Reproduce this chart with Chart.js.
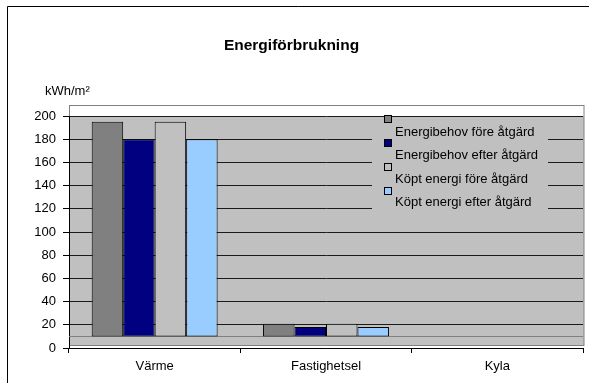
<!DOCTYPE html>
<html>
<head>
<meta charset="utf-8">
<script src="https://cdn.jsdelivr.net/npm/chart.js@4/dist/chart.umd.min.js"></script>
<style>
  html, body { margin: 0; padding: 0; background: #ffffff; overflow: hidden; }
  #wrap { position: relative; width: 589px; height: 383px; }
</style>
</head>
<body>
<div id="wrap"><canvas id="c" width="589" height="383"></canvas></div>
<script>
const chartTitle = 'Energiförbrukning';
const unitLabel = 'kWh/m²';
const categories = ['Värme', 'Fastighetsel', 'Kyla'];
const seriesNames = ['Energibehov före åtgärd', 'Energibehov efter åtgärd', 'Köpt energi före åtgärd', 'Köpt energi efter åtgärd'];
const energibehovFore = [195, 21, null];
const energibehovEfter = [180, 18, null];
const kooptFore = [195, 21, null];
const kooptEfter = [180, 18, null];
const seriesColors = ['#808080', '#000080', '#c0c0c0', '#99ccff'];
const yTicks = [0, 20, 40, 60, 80, 100, 120, 140, 160, 180, 200];
const barBase = 10;

const FONT = '"Liberation Sans", Arial, sans-serif';

const plotDecor = {
  id: 'plotDecor',
  beforeDraw(chart) {
    const ctx = chart.ctx;
    const a = chart.chartArea;
    const y = chart.scales.y;
    ctx.save();
    // outer frame (only top and left edges are inside the picture)
    ctx.strokeStyle = '#000';
    ctx.lineWidth = 1;
    ctx.beginPath();
    ctx.moveTo(7.5, 400);
    ctx.lineTo(7.5, 6.5);
    ctx.lineTo(600, 6.5);
    ctx.stroke();
    // plot outline with white strip above top
    const top = Math.round(y.getPixelForValue(200));
    const bottomFill = Math.round(y.getPixelForValue(0)) - 2;
    ctx.fillStyle = '#ffffff';
    ctx.fillRect(a.left, top - 11, a.right - a.left + 1, 11);
    ctx.fillStyle = '#c0c0c0';
    ctx.fillRect(a.left, top, a.right - a.left + 1, bottomFill - top);
    ctx.strokeStyle = '#808080';
    ctx.strokeRect(a.left + 0.5, top - 10.5, a.right - a.left + 0.5, bottomFill - top + 10);
    // unit label
    ctx.fillStyle = '#000';
    ctx.font = '13px ' + FONT;
    ctx.textBaseline = 'middle';
    ctx.textAlign = 'left';
    ctx.fillText(unitLabel, 45, 91);
    ctx.restore();
  },
  beforeDatasetsDraw(chart) {
    const ctx = chart.ctx;
    const a = chart.chartArea;
    const yy = Math.round(chart.scales.y.getPixelForValue(barBase)) + 0.5;
    ctx.save();
    ctx.strokeStyle = '#808080';
    ctx.lineWidth = 1;
    ctx.beginPath();
    ctx.moveTo(a.left, yy);
    ctx.lineTo(a.right, yy);
    ctx.stroke();
    ctx.restore();
  },
  afterDraw(chart) {
    const ctx = chart.ctx;
    ctx.save();
    // legend background (interrupts gridlines)
    ctx.fillStyle = '#c0c0c0';
    ctx.fillRect(372, 118, 176, 104);
    ctx.font = '13px ' + FONT;
    ctx.textBaseline = 'middle';
    ctx.textAlign = 'left';
    chart.data.datasets.forEach((ds, i) => {
      const my = 115 + i * 24;
      ctx.fillStyle = ds.backgroundColor;
      ctx.fillRect(384, my, 8, 8);
      ctx.strokeStyle = '#000';
      ctx.lineWidth = 1;
      ctx.strokeRect(384.5, my + 0.5, 7, 7);
      ctx.fillStyle = '#000';
      ctx.fillText(ds.label, 395, 132 + i * 23.5);
    });
    ctx.restore();
  }
};

const dataArrays = [energibehovFore, energibehovEfter, kooptFore, kooptEfter];

new Chart(document.getElementById('c'), {
  type: 'bar',
  data: {
    labels: categories,
    datasets: dataArrays.map((arr, i) => ({
      label: seriesNames[i],
      data: arr,
      backgroundColor: seriesColors[i],
      borderColor: '#000',
      borderWidth: 1,
      borderSkipped: false,
      base: barBase,
      categoryPercentage: 0.735,
      barPercentage: 1.0
    }))
  },
  options: {
    responsive: false,
    animation: false,
    devicePixelRatio: 1,
    layout: { padding: { left: 0, right: 6, top: 0, bottom: 0 } },
    plugins: {
      legend: { display: false },
      tooltip: { enabled: false },
      title: {
        display: true,
        text: chartTitle,
        color: '#000',
        font: { family: FONT, size: 15.5, weight: 'bold', lineHeight: 1.2 },
        padding: { top: 36.4, bottom: 61 }
      }
    },
    scales: {
      x: {
        offset: true,
        grid: { display: true, offset: true, drawOnChartArea: false, drawTicks: true, tickLength: 5, color: '#000' },
        border: { display: true, color: '#000', width: 1 },
        ticks: { color: '#000', font: { family: FONT, size: 13 }, padding: 6, maxRotation: 0 },
        afterFit(scale) { scale.height = 35; }
      },
      y: {
        min: 0,
        max: 200,
        afterBuildTicks(scale) { scale.ticks = yTicks.map(v => ({ value: v })); },
        grid: { display: true, drawTicks: true, tickLength: 6, color: '#1a1a1a', tickColor: '#000' },
        border: { display: true, color: '#000', width: 1 },
        ticks: { color: '#000', font: { family: FONT, size: 13 }, padding: 7 },
        afterFit(scale) { scale.width = 69; }
      }
    }
  },
  plugins: [plotDecor]
});
</script>
</body>
</html>
